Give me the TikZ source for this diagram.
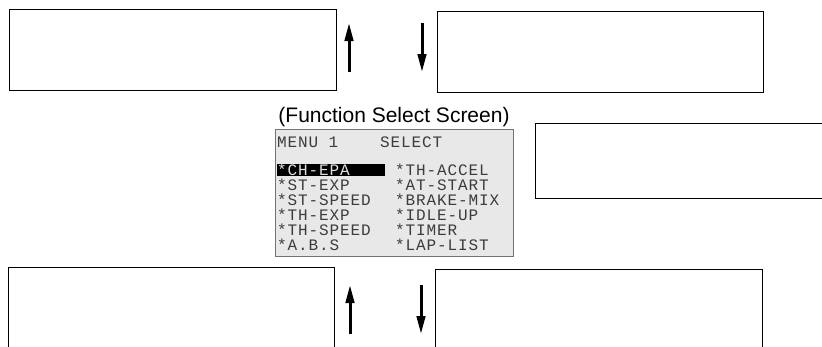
\documentclass[tikz,border=0pt]{standalone}
\usepackage{fontspec}
\setmainfont{Liberation Sans}
\newfontfamily\lcdfont[LetterSpace=5.5]{Liberation Mono}
\usetikzlibrary{arrows.meta}
\definecolor{lcdbg}{HTML}{E8E8E8}
\definecolor{lcdink}{HTML}{3C3C3C}
\tikzset{
  blankbox/.style={draw=black,line width=1.4pt,fill=white,inner sep=0pt,anchor=north west},
  lcdtext/.style={anchor=base west,inner sep=0pt,text height=11pt,text depth=0pt,text=lcdink,font=\lcdfont\fontsize{16}{16}\selectfont},
  navarrow/.style={line width=3pt,-{Triangle[length=18pt,width=8.5pt]}},
  caption/.style={inner sep=0pt,font=\fontsize{21}{21}\selectfont}
}
\begin{document}
\begin{tikzpicture}[x=1pt,y=-1pt]
\useasboundingbox (0,0) rectangle (822,346);
\clip (0,0) rectangle (822,346);
% boxes
\node[blankbox,minimum width=327pt,minimum height=81pt] (tl) at (9,9) {};
\node[blankbox,minimum width=326pt,minimum height=81pt] (tr) at (437,11) {};
\node[blankbox,minimum width=300pt,minimum height=75pt] (mr) at (535,123) {};
\node[blankbox,minimum width=326pt,minimum height=100pt] (bl) at (8,267) {};
\node[blankbox,minimum width=327pt,minimum height=100pt] (br) at (435,269) {};
% arrows
\coordinate (a1s) at (349,72); \coordinate (a1e) at (349,23);
\coordinate (a2s) at (422,23); \coordinate (a2e) at (422,72);
\coordinate (a3s) at (350,334); \coordinate (a3e) at (350,285);
\coordinate (a4s) at (421,285); \coordinate (a4e) at (421,334);
\draw[navarrow] (a1s) -- (a1e);
\draw[navarrow] (a2s) -- (a2e);
\draw[navarrow] (a3s) -- (a3e);
\draw[navarrow] (a4s) -- (a4e);
% caption
\node[caption] (cap) at (394,117) {(Function Select Screen)};
% LCD screen
\node[draw=black!55,line width=0.8pt,fill=lcdbg,anchor=north west,inner sep=0pt,minimum width=238pt,minimum height=127pt] (lcd) at (275,129) {};
\fill[black] (277,164) rectangle (385,176);
\node[lcdtext] (h) at (277,147) {MENU 1\ \ \ \ SELECT};
\node[lcdtext,text=white!88!black] (c1r1) at (277,175) {*CH-EPA};
\node[lcdtext] (c1r2) at (277,190.5) {*ST-EXP};
\node[lcdtext] (c1r3) at (277,205.5) {*ST-SPEED};
\node[lcdtext] (c1r4) at (277,220.5) {*TH-EXP};
\node[lcdtext] (c1r5) at (277,235.5) {*TH-SPEED};
\node[lcdtext] (c1r6) at (277,250) {*A.B.S};
\node[lcdtext] (c2r1) at (395,175) {*TH-ACCEL};
\node[lcdtext] (c2r2) at (395,190.5) {*AT-START};
\node[lcdtext] (c2r3) at (395,205.5) {*BRAKE-MIX};
\node[lcdtext] (c2r4) at (395,220.5) {*IDLE-UP};
\node[lcdtext] (c2r5) at (395,235.5) {*TIMER};
\node[lcdtext] (c2r6) at (395,250) {*LAP-LIST};
\end{tikzpicture}
\end{document}
